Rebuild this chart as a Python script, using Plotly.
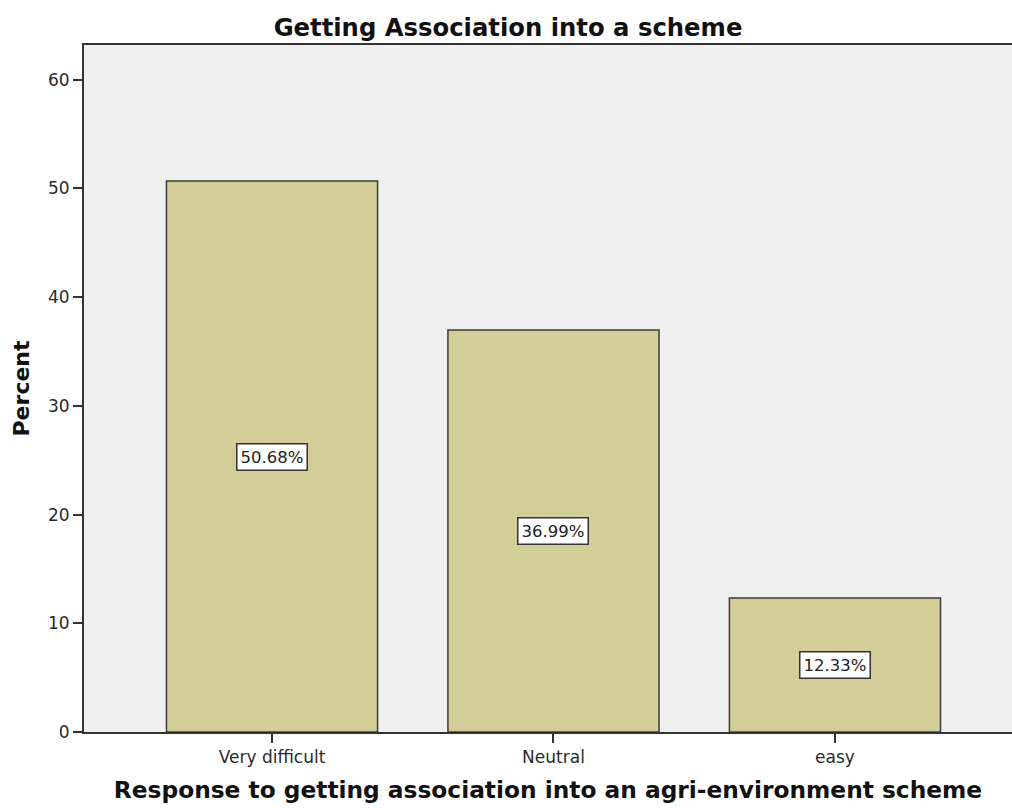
import plotly.graph_objects as go

# Survey responses and their share of respondents
categories = ["Very difficult", "Neutral", "easy"]
percents = [50.68, 36.99, 12.33]
y_ticks = [0, 10, 20, 30, 40, 50, 60]

FONT = "DejaVu Sans"
BAR_COLOR = "#d3cd97"
EDGE = "#3a3a3a"

fig = go.Figure()
fig.add_trace(go.Bar(
    x=list(range(len(categories))),
    y=percents,
    width=0.75,
    marker=dict(color=BAR_COLOR, line=dict(color=EDGE, width=1.5)),
    hoverinfo="skip",
))

# Boxed value labels halfway up each bar
for i, v in enumerate(percents):
    fig.add_annotation(
        x=i, y=v / 2, text=f"{v:.2f}%", showarrow=False,
        font=dict(family=FONT, size=16.5, color="#222222"),
        bgcolor="white", bordercolor="#333333", borderwidth=1.5, borderpad=3,
    )

fig.update_layout(
    width=1012, height=808,
    margin=dict(l=84, r=0, t=45, b=76),
    paper_bgcolor="white",
    plot_bgcolor="#f0f0f0",
    showlegend=False,
    title=dict(
        text="<b>Getting Association into a scheme</b>",
        x=508 / 1012, xref="container", xanchor="center",
        y=1 - 27 / 808, yref="container", yanchor="middle",
        font=dict(family=FONT, size=24.3, color="#111111"),
    ),
    font=dict(family=FONT, color="#222222"),
)

fig.update_xaxes(
    tickmode="array",
    tickvals=list(range(len(categories))),
    ticktext=categories,
    range=[-0.668, 2.629],
    showgrid=False, zeroline=False,
    showline=True, linecolor="#333333", linewidth=2, mirror=True,
    ticks="outside", ticklen=9, tickcolor="#333333", tickwidth=1.5,
    tickfont=dict(family=FONT, size=17, color="#2a2a2a"),
    title=dict(
        text="<b>Response to getting association into an agri-environment scheme</b>",
        font=dict(family=FONT, size=23.3, color="#111111"),
        standoff=15,
    ),
)
fig.update_yaxes(
    tickmode="array", tickvals=y_ticks,
    range=[0, 63.2],
    showgrid=False, zeroline=False,
    showline=True, linecolor="#333333", linewidth=2,
    ticks="outside", ticklen=9, tickcolor="#333333", tickwidth=1.5,
    tickfont=dict(family=FONT, size=17, color="#2a2a2a"),
    title=dict(
        text="<b>Percent</b>",
        font=dict(family=FONT, size=22, color="#111111"),
        standoff=12,
    ),
)

fig.write_html("out.html")
